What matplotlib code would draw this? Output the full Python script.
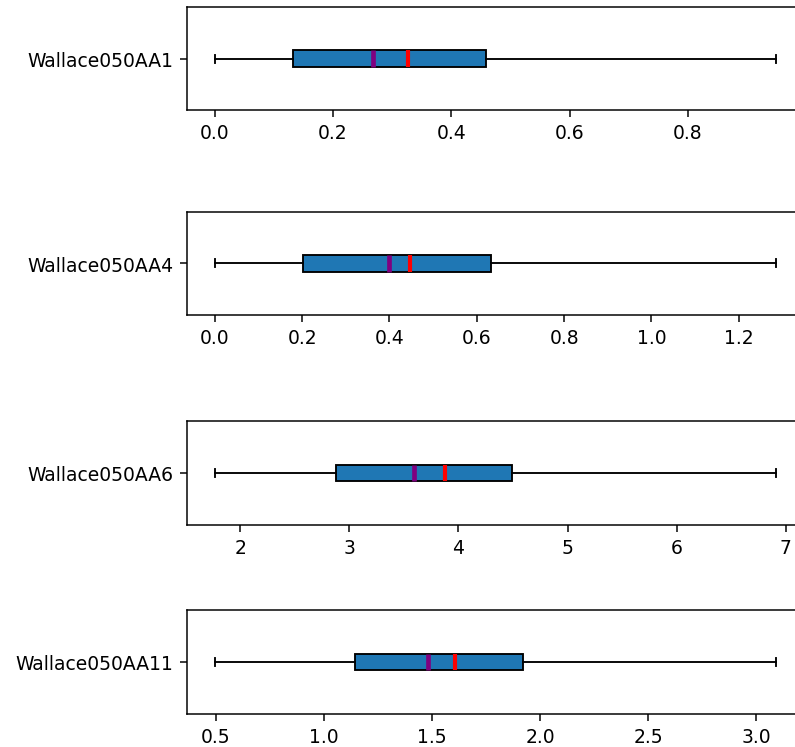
import matplotlib
matplotlib.use("Agg")
import matplotlib.pyplot as plt

# summary stats
labels = ["Wallace050AA1", "Wallace050AA4", "Wallace050AA6", "Wallace050AA11"]
whislo = [0.0, 0.0, 1.767, 0.496]
q1 = [0.132, 0.201, 2.877, 1.144]
med = [0.267, 0.400, 3.592, 1.482]
mean = [0.326, 0.447, 3.875, 1.605]
q3 = [0.458, 0.632, 4.487, 1.922]
whishi = [0.949, 1.285, 6.909, 3.090]

# axes boxes in pixels (top, bottom) of a 795x748 image
rows = [(8.3, 111.0), (212.7, 316.0), (421.7, 526.0), (610.7, 715.0)]
W, H = 795, 748
left_px, right_px = 186.7, 804.0

fig = plt.figure(figsize=(W / 135, H / 135), dpi=135)

for i, lab in enumerate(labels):
    top, bot = rows[i]
    ax = fig.add_axes([left_px / W, 1 - bot / H, (right_px - left_px) / W, (bot - top) / H])
    st = [dict(label=lab, whislo=whislo[i], q1=q1[i], med=med[i], mean=mean[i],
               q3=q3[i], whishi=whishi[i], fliers=[])]
    ax.bxp(st, vert=False, widths=0.16, patch_artist=True,
           showmeans=True, meanline=True,
           boxprops=dict(facecolor="#1f77b4", edgecolor="black"),
           medianprops=dict(color="purple", linewidth=2.5),
           meanprops=dict(color="red", linestyle="-", linewidth=2.2))

fig.savefig("out.png", dpi=135)
